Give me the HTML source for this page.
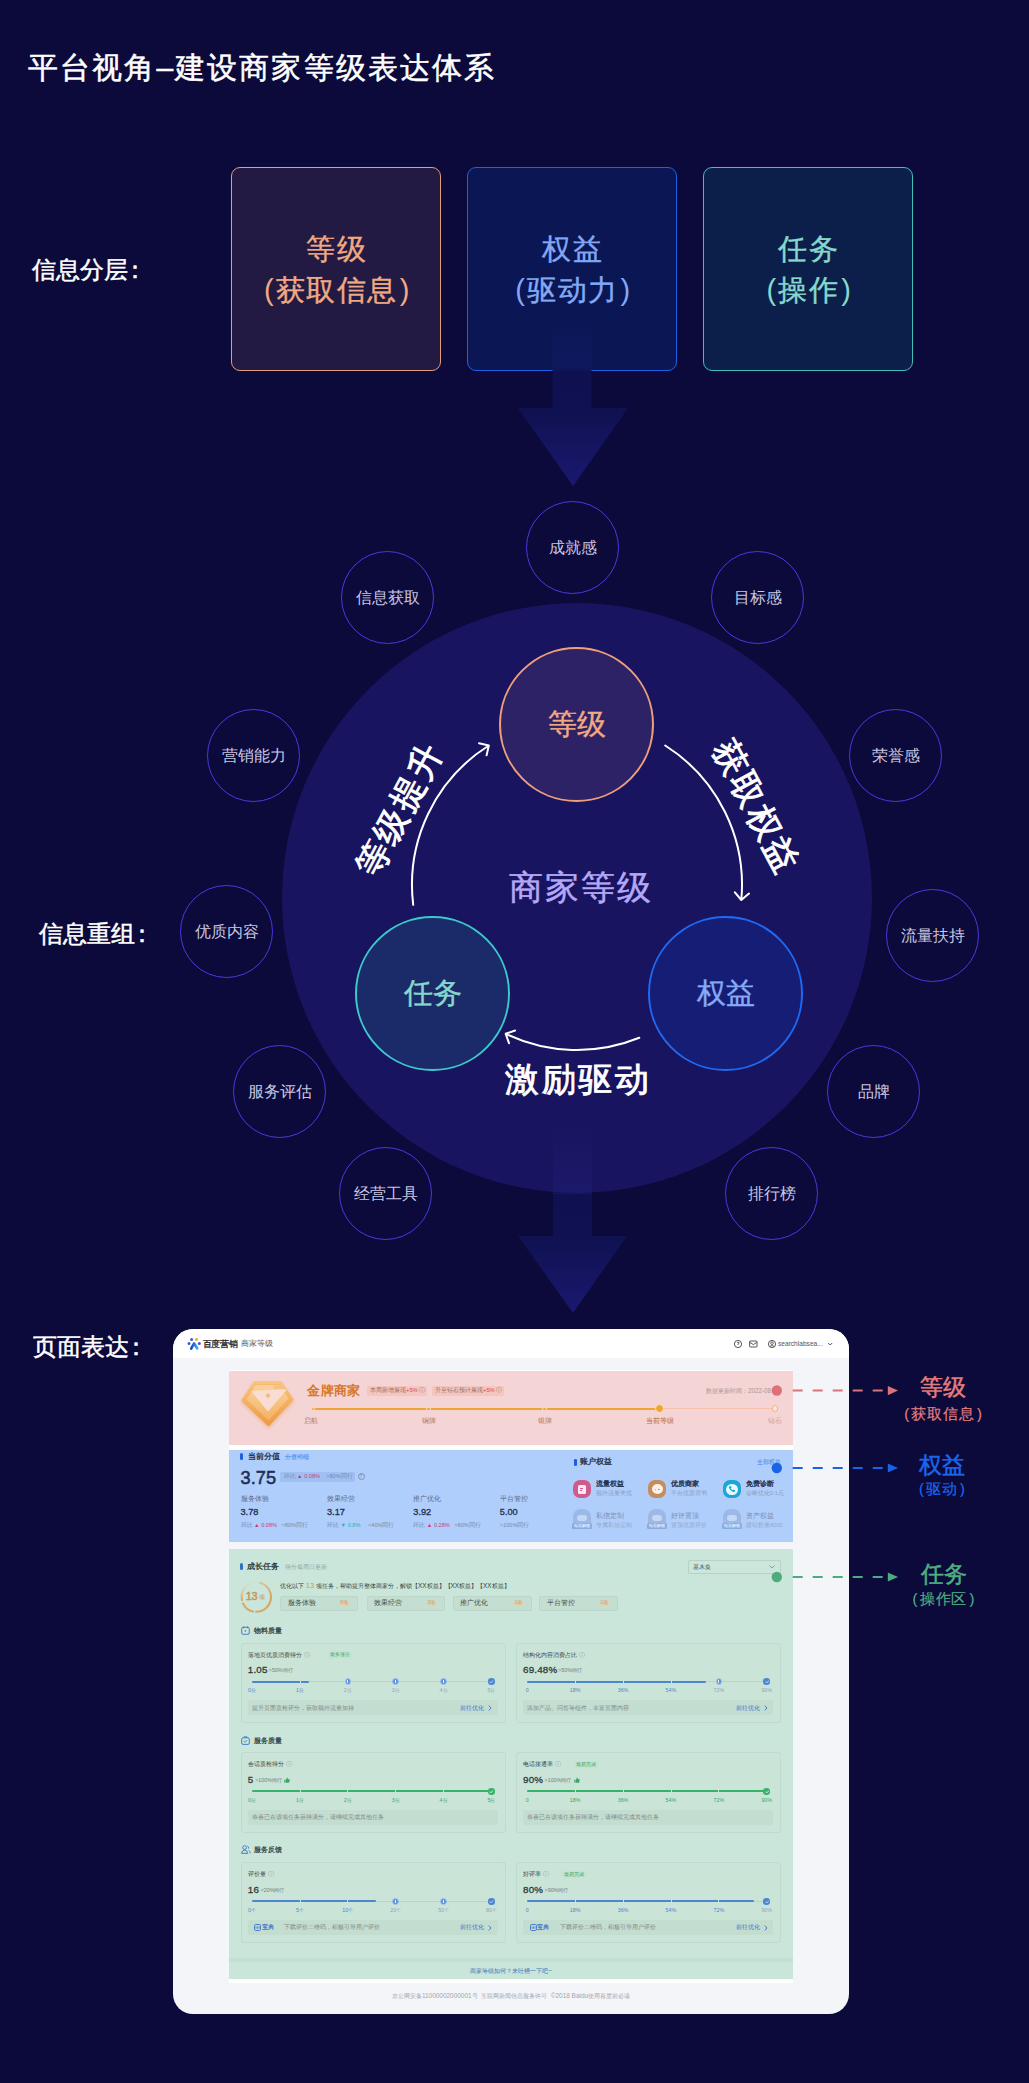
<!DOCTYPE html>
<html><head><meta charset="utf-8">
<style>
*{box-sizing:border-box;margin:0;padding:0}
html,body{width:1029px;height:2083px;overflow:hidden}
body{background:#0b0a3a;position:relative;font-family:"Liberation Sans",sans-serif;color:#fff}
.a{position:absolute;white-space:nowrap;line-height:1}
.med{-webkit-text-stroke:0.5px currentColor}
.box{position:absolute;top:167px;width:210px;height:204px;border-radius:9px;border:1px solid}
.box .t{position:absolute;left:0;width:100%;text-align:center;font-size:29px;line-height:1;letter-spacing:1.5px;text-indent:1.5px;-webkit-text-stroke:0.4px currentColor}
.p{margin:0 2px;letter-spacing:0;-webkit-text-stroke:0}
.p2{margin:0 2.2px;letter-spacing:0}
.oc{position:absolute;width:93px;height:93px;border-radius:50%;border:1.9px solid #463be0;display:flex;align-items:center;justify-content:center;font-size:16px;color:#c9c7e2;line-height:1}
.m{position:absolute;white-space:nowrap;line-height:1}
.ic{position:absolute;width:155px;height:155px;border-radius:50%;border:2px solid;display:flex;align-items:center;justify-content:center;font-size:29px;line-height:1;-webkit-text-stroke:0.4px currentColor}
</style></head><body>

<!-- Title -->
<div class="a med" style="left:28px;top:53px;font-size:30px;letter-spacing:2.1px">平台视角–建设商家等级表达体系</div>

<!-- Section labels -->
<div class="a med" style="left:32px;top:259px;font-size:23.5px">信息分层<span style="margin-left:-5.5px">：</span></div>
<div class="a med" style="left:39px;top:923px;font-size:23.5px">信息重组<span style="margin-left:-5.5px">：</span></div>
<div class="a med" style="left:33px;top:1336px;font-size:23.5px">页面表达<span style="margin-left:-5.5px">：</span></div>

<!-- Three boxes -->
<div class="box" style="left:231px;background:#221a42;border-color:#e39c7e;color:#f1a983">
  <div class="t" style="top:67px">等级</div>
  <div class="t" style="top:108px"><span class="p">(</span>获取信息<span class="p">)</span></div>
</div>
<div class="box" style="left:467px;background:#0b1654;border-color:#2160e6;color:#82a8f6">
  <div class="t" style="top:67px">权益</div>
  <div class="t" style="top:108px"><span class="p">(</span>驱动力<span class="p">)</span></div>
</div>
<div class="box" style="left:703px;background:#0c1f4a;border-color:#45bdb8;color:#86d8cd">
  <div class="t" style="top:67px">任务</div>
  <div class="t" style="top:108px"><span class="p">(</span>操作<span class="p">)</span></div>
</div>

<!-- Arrow 1 -->
<svg class="a" style="left:0;top:0" width="1029" height="2083" viewBox="0 0 1029 2083">
  <defs>
    <linearGradient id="sh1" x1="0" y1="0" x2="0" y2="1">
      <stop offset="0" stop-color="#142070" stop-opacity="0"/>
      <stop offset="0.5" stop-color="#122070" stop-opacity="0.35"/>
      <stop offset="0.58" stop-color="#0e1050" stop-opacity="1"/>
      <stop offset="1" stop-color="#0f1152" stop-opacity="1"/>
    </linearGradient>
    <linearGradient id="tr1" x1="0" y1="0" x2="0" y2="1">
      <stop offset="0" stop-color="#0f1150"/>
      <stop offset="1" stop-color="#1a1870"/>
    </linearGradient>
    <radialGradient id="bigc" cx="0.5" cy="0.5" r="0.5">
      <stop offset="0" stop-color="#191662"/>
      <stop offset="0.85" stop-color="#1a1764"/>
      <stop offset="1" stop-color="#1b1868"/>
    </radialGradient>
  </defs>
  <rect x="552.5" y="320" width="39" height="88" fill="url(#sh1)"/>
  <polygon points="518,408 628,408 573,486" fill="url(#tr1)"/>
</svg>

<!-- Big circle -->
<div class="a" style="left:282px;top:603px;width:590px;height:590px;border-radius:50%;background:#18145f"></div>

<!-- Arrow 2 (over circle bottom) -->
<svg class="a" style="left:0;top:0" width="1029" height="2083" viewBox="0 0 1029 2083">
  <defs>
    <linearGradient id="sh2" x1="0" y1="0" x2="0" y2="1">
      <stop offset="0" stop-color="#2a2c96" stop-opacity="0"/>
      <stop offset="0.625" stop-color="#2a2c96" stop-opacity="0.22"/>
      <stop offset="0.632" stop-color="#0e1050" stop-opacity="1"/>
      <stop offset="1" stop-color="#0f1152" stop-opacity="1"/>
    </linearGradient>
    <linearGradient id="tr2" x1="0" y1="0" x2="0" y2="1">
      <stop offset="0" stop-color="#0f1150"/>
      <stop offset="1" stop-color="#1a1870"/>
    </linearGradient>
  </defs>
  <rect x="553" y="1120" width="39" height="117" fill="url(#sh2)"/>
  <polygon points="518,1236 627,1236 573,1313" fill="url(#tr2)"/>
</svg>

<!-- Inner circles -->
<div class="ic" style="left:499px;top:647px;background:#2d2266;border-color:#ee9f7a;color:#f1a983">等级</div>
<div class="ic" style="left:355px;top:916px;background:#1b2a68;border-color:#3cc9cb;color:#86d8cd">任务</div>
<div class="ic" style="left:648px;top:916px;background:#161d74;border-color:#1f68f2;color:#86aaf7">权益</div>

<!-- Arcs -->
<svg class="a" style="left:0;top:0" width="1029" height="2083" viewBox="0 0 1029 2083" fill="none" stroke="#fff" stroke-width="2" stroke-linecap="round" stroke-linejoin="round">
  <path id="arcL" d="M413.2,904.8 A165,165 0 0 1 488.8,745.5 M479.1,743.3 L488.8,745.5 L486.6,755.3"/>
  <path id="arcR" d="M665.2,745.5 A165,165 0 0 1 741.3,900.0 M749.0,893.6 L741.3,900.0 L734.9,892.3"/>
  <path id="arcB" d="M639.3,1037.8 A165,165 0 0 1 505.7,1033.8 M509.0,1043.2 L505.7,1033.8 L515.1,1030.5"/>
</svg>

<div class="a" style="left:509px;top:870px;font-size:34px;letter-spacing:2px;color:#b4a7f6;-webkit-text-stroke:0.5px #b4a7f6">商家等级</div>
<div class="a" style="left:505px;top:1061.5px;font-size:34px;letter-spacing:2.6px;color:#fff;-webkit-text-stroke:0.9px #fff">激励驱动</div>
<div class="a" style="left:398.6px;top:810px;font-size:34px;letter-spacing:2.6px;text-indent:2.6px;color:#fff;-webkit-text-stroke:0.9px #fff;transform:translate(-50%,-50%) rotate(-62deg)">等级提升</div>
<div class="a" style="left:755.5px;top:806px;font-size:34px;letter-spacing:2.6px;text-indent:2.6px;color:#fff;-webkit-text-stroke:0.9px #fff;transform:translate(-50%,-50%) rotate(62deg)">获取权益</div>

<!-- Outer circles -->
<div class="oc" style="left:526px;top:501px">成就感</div>
<div class="oc" style="left:341px;top:551px">信息获取</div>
<div class="oc" style="left:711px;top:551px">目标感</div>
<div class="oc" style="left:207px;top:709px">营销能力</div>
<div class="oc" style="left:849px;top:709px">荣誉感</div>
<div class="oc" style="left:180px;top:885px">优质内容</div>
<div class="oc" style="left:886px;top:889px">流量扶持</div>
<div class="oc" style="left:233px;top:1045px">服务评估</div>
<div class="oc" style="left:827px;top:1045px">品牌</div>
<div class="oc" style="left:339px;top:1147px">经营工具</div>
<div class="oc" style="left:725px;top:1147px">排行榜</div>

<!-- MOCKUP -->
<div id="mock" class="a" style="left:173px;top:1329px;width:676px;height:685px;border-radius:20px;background:#f3f5f8;overflow:hidden">
<div style="position:absolute;left:-173px;top:-1329px;width:1029px;height:2083px">
<!-- MOCK-START -->
<div class="m" style="left:173px;top:1329px;width:676px;height:29px;background:#ffffff;"></div>
<svg class="m" style="left:186px;top:1336px" width="16" height="15" viewBox="0 0 16 15">
<circle cx="3" cy="7.6" r="1.5" fill="#3b5bd6"/><circle cx="5.6" cy="3.5" r="1.5" fill="#3b5bd6"/>
<circle cx="10.5" cy="3.5" r="1.5" fill="#f2a640"/><circle cx="13.3" cy="7.6" r="1.5" fill="#3b5bd6"/>
<path d="M5.2,12.6 L8.1,7.4 L11.2,12.3" stroke="url(#lg)" stroke-width="2.6" fill="none" stroke-linecap="round" stroke-linejoin="round"/>
<defs><linearGradient id="lg" x1="0" x2="1"><stop offset="0" stop-color="#1f3fbf"/><stop offset="1" stop-color="#33a7f0"/></linearGradient></defs>
</svg>
<div class="m" style="left:202.5px;top:1339.6px;font-size:8.8px;color:#2b2b2b;-webkit-text-stroke-width:0.32px;letter-spacing:-0.2px;">百度营销</div>
<div class="m" style="left:240.8px;top:1340.1px;font-size:7.8px;color:#555;">商家等级</div>
<svg class="m" style="left:733px;top:1339px" width="100" height="10" viewBox="0 0 100 10">
<circle cx="5" cy="5" r="3.6" fill="none" stroke="#444" stroke-width="0.9"/>
<path d="M4,4 Q5,2.6 6,3.6 Q6.4,4.6 5,5.2 L5,6" stroke="#444" stroke-width="0.8" fill="none"/>
<rect x="16.6" y="2" width="7.4" height="6" rx="0.8" fill="none" stroke="#444" stroke-width="0.9"/>
<path d="M16.8,3.3 L20.3,5.6 L23.8,3.3" stroke="#444" stroke-width="0.9" fill="none"/>
<circle cx="39" cy="5" r="3.6" fill="none" stroke="#444" stroke-width="0.9"/>
<circle cx="39" cy="4.2" r="1.3" fill="none" stroke="#444" stroke-width="0.8"/>
<path d="M36.8,7.5 Q39,5.4 41.2,7.5" stroke="#444" stroke-width="0.8" fill="none"/>
<path d="M95.2,4 L97.2,6 L99.2,4" stroke="#444" stroke-width="0.9" fill="none"/>
</svg>
<div class="m" style="left:778px;top:1340.7px;font-size:6.6px;color:#555;">searchlabsea...</div>
<div class="m" style="left:229px;top:1369.5px;width:564px;height:613.5px;background:#ffffff;"></div>
<div class="m" style="left:229px;top:1541.7px;width:564px;height:7.2999999999999545px;background:#f3f5f8;"></div>
<div class="m" style="left:229px;top:1371px;width:564px;height:73.59999999999991px;background:#f4d4d4;"></div>
<div class="m" style="left:229px;top:1449.8px;width:564px;height:91.90000000000009px;background:#b0cefb;"></div>
<div class="m" style="left:229px;top:1549px;width:564px;height:430.20000000000005px;background:#cae5d9;"></div>
<svg class="m" style="left:236px;top:1376px" width="62" height="56" viewBox="236 1376 62 56">
<defs>
<linearGradient id="bg1" x1="0" y1="0" x2="0" y2="1"><stop offset="0" stop-color="#f8c47e"/><stop offset="1" stop-color="#f09a44"/></linearGradient>
<linearGradient id="bg2" x1="0" y1="0" x2="0" y2="1"><stop offset="0" stop-color="#fbd29e"/><stop offset="1" stop-color="#f5b264"/></linearGradient>
<filter id="bsh" x="-20%" y="-20%" width="140%" height="150%"><feGaussianBlur stdDeviation="1.4"/></filter>
</defs>
<polygon points="254.5,1384.5 280.5,1384.5 292.5,1401.5 268.5,1427 243,1402.5" fill="#e9964a" stroke="#e9964a" stroke-width="3" stroke-linejoin="round" opacity="0.35" filter="url(#bsh)"/>
<polygon points="254.5,1382.5 280.5,1382.5 292,1399.5 268.5,1424.5 243,1400.5" fill="url(#bg1)" stroke="url(#bg1)" stroke-width="3" stroke-linejoin="round"/>
<polygon points="255.5,1384.5 279.5,1384.5 289,1398.5 268.5,1420 246,1399.5" fill="url(#bg2)" stroke="#f3ae60" stroke-width="0.6" stroke-linejoin="round"/>
<polygon points="252.5,1391.5 285.5,1390 268,1410.5" fill="#f9dcd2" stroke="#f9dcd2" stroke-width="1.5" stroke-linejoin="round"/>
<polygon points="268,1393 270.6,1395.6 268,1398.2 265.4,1395.6" fill="#f4bb78"/>
<polygon points="273,1385.5 283,1385.5 285,1389 274,1389" fill="#f6bd7e" opacity="0.8"/>
</svg>
<div class="m" style="left:307.3px;top:1384.0px;font-size:13.2px;color:#d9772b;font-weight:bold;letter-spacing:0.3px;">金牌商家</div>
<div class="m" style="left:367.3px;top:1386px;width:60.099999999999966px;height:10.200000000000045px;background:#f3c7bf;border-radius:1.5px;"></div>
<div class="m" style="left:370px;top:1388.2px;font-size:5.8px;color:#9a6d66;">本周新增展现<span style="color:#e3455a">+5%</span> ⓘ</div>
<div class="m" style="left:432px;top:1386px;width:72px;height:10.200000000000045px;background:#f3c7bf;border-radius:1.5px;"></div>
<div class="m" style="left:435px;top:1388.2px;font-size:5.8px;color:#9a6d66;">升至钻石预计展现<span style="color:#e3455a">+5%</span> ⓘ</div>
<div class="m" style="right:258px;top:1387.8px;font-size:6.3px;color:#a99696;">数据更新时间：2022-08</div>
<div class="m" style="left:313px;top:1407.8px;width:346.5px;height:2.0px;background:#f0a432;border-radius:1px;"></div>
<div class="m" style="left:659.5px;top:1408.2px;width:115.5px;height:1.2000000000000455px;background:#f6c2ad;"></div>
<div class="m" style="left:310.8px;top:1406.6px;width:4.4px;height:4.4px;border-radius:50%;background:#f0a432;border:1px solid #f8d8c4"></div>
<div class="m" style="left:426.3px;top:1406.6px;width:4.4px;height:4.4px;border-radius:50%;background:#f0a432;border:1px solid #f8d8c4"></div>
<div class="m" style="left:542.3px;top:1406.6px;width:4.4px;height:4.4px;border-radius:50%;background:#f0a432;border:1px solid #f8d8c4"></div>
<div class="m" style="left:655px;top:1404.3px;width:9px;height:9px;border-radius:50%;background:#f0a432;border:1.3px solid #fbe0c8"></div>
<div class="m" style="left:771.6px;top:1405.4px;width:6.8px;height:6.8px;border-radius:50%;background:#fbe7de;border:1.2px solid #f0b482"></div>
<div class="m" style="left:311px;top:1417.7px;font-size:6.6px;color:#b9785c;transform:translateX(-50%);">启航</div>
<div class="m" style="left:428.5px;top:1417.7px;font-size:6.6px;color:#b9785c;transform:translateX(-50%);">铜牌</div>
<div class="m" style="left:544.5px;top:1417.7px;font-size:6.6px;color:#b9785c;transform:translateX(-50%);">银牌</div>
<div class="m" style="left:659.5px;top:1417.7px;font-size:6.6px;color:#b86a40;transform:translateX(-50%);">当前等级</div>
<div class="m" style="left:775px;top:1417.7px;font-size:6.6px;color:#cfa190;transform:translateX(-50%);">钻石</div>
<div class="m" style="left:240.4px;top:1453px;width:2.9000000000000057px;height:7.2000000000000455px;background:#1b5fe0;border-radius:1.5px;"></div>
<div class="m" style="left:247.7px;top:1452.7px;font-size:8.2px;color:#23314f;-webkit-text-stroke-width:0.32px;">当前分值</div>
<div class="m" style="left:284.8px;top:1453.8px;font-size:6.3px;color:#3a7ae6;">分值明细</div>
<div class="m" style="left:240.6px;top:1468.5px;font-size:18.2px;color:#1e2f57;letter-spacing:0px;-webkit-text-stroke:0.55px #1e2f57;">3.75</div>
<div class="m" style="left:280px;top:1471.6px;width:75.19999999999999px;height:10.100000000000136px;background:#a0c0f4;border-radius:1px;"></div>
<div class="m" style="left:283.5px;top:1473.9px;font-size:5.6px;color:#7588a8;">环比 <span style="color:#cc4070">▲ 0.08%</span>&nbsp;&nbsp;&nbsp;&nbsp;&gt;80%同行</div>
<div class="m" style="left:357.5px;top:1473.4px;width:7px;height:7px;border-radius:50%;border:0.8px solid #7f8fae;font-size:5px;line-height:5.6px;text-align:center;color:#7f8fae">?</div>
<div class="m" style="left:240.5px;top:1496.1px;font-size:6.6px;color:#5a6a86;">服务体验</div>
<div class="m" style="left:240.5px;top:1508.2px;font-size:9.2px;color:#24324f;-webkit-text-stroke-width:0.32px;">3.78</div>
<div class="m" style="left:240.5px;top:1523.2px;font-size:5.6px;color:#7588a8;">环比 <span style="color:#cc4070">▲ 0.08%</span></div>
<div class="m" style="left:281.5px;top:1523.2px;font-size:5.6px;color:#7588a8;">&gt;80%同行</div>
<div class="m" style="left:327px;top:1496.1px;font-size:6.6px;color:#5a6a86;">效果经营</div>
<div class="m" style="left:327px;top:1508.2px;font-size:9.2px;color:#24324f;-webkit-text-stroke-width:0.32px;">3.17</div>
<div class="m" style="left:327px;top:1523.2px;font-size:5.6px;color:#7588a8;">环比 <span style="color:#2bb0b0">▼ 0.8%</span></div>
<div class="m" style="left:368px;top:1523.2px;font-size:5.6px;color:#7588a8;">&lt;40%同行</div>
<div class="m" style="left:413.3px;top:1496.1px;font-size:6.6px;color:#5a6a86;">推广优化</div>
<div class="m" style="left:413.3px;top:1508.2px;font-size:9.2px;color:#24324f;-webkit-text-stroke-width:0.32px;">3.92</div>
<div class="m" style="left:413.3px;top:1523.2px;font-size:5.6px;color:#7588a8;">环比 <span style="color:#cc4070">▲ 0.28%</span></div>
<div class="m" style="left:454.3px;top:1523.2px;font-size:5.6px;color:#7588a8;">&gt;80%同行</div>
<div class="m" style="left:499.8px;top:1496.1px;font-size:6.6px;color:#5a6a86;">平台管控</div>
<div class="m" style="left:499.8px;top:1508.2px;font-size:9.2px;color:#24324f;-webkit-text-stroke-width:0.32px;">5.00</div>
<div class="m" style="left:499.8px;top:1523.2px;font-size:5.6px;color:#7588a8;">&gt;100%同行</div>
<div class="m" style="left:574px;top:1459px;width:2.6000000000000227px;height:7px;background:#1b5fe0;border-radius:1.3px;"></div>
<div class="m" style="left:579.7px;top:1458.4px;font-size:8.2px;color:#23314f;-webkit-text-stroke-width:0.32px;">账户权益</div>
<div class="m" style="right:247.79999999999995px;top:1459.3px;font-size:6.0px;color:#3a7ae6;">全部权益</div>
<div class="m" style="left:572.5px;top:1480.1px;width:18.4px;height:18.4px;border-radius:7px;background:#d05a8c"></div>
<div class="m" style="left:577.7px;top:1484.8px;width:8px;height:9px;border-radius:1.5px;background:#fbe9f1"></div>
<div class="m" style="left:579.5px;top:1487.7px;width:3.6px;height:0.9px;background:#d05a8c"></div>
<div class="m" style="left:579.5px;top:1489.8999999999999px;width:2.6px;height:0.9px;background:#d05a8c"></div>
<div class="m" style="left:595.8000000000001px;top:1481.1px;font-size:6.9px;color:#23314f;-webkit-text-stroke-width:0.32px;">流量权益</div>
<div class="m" style="left:595.8000000000001px;top:1491.4px;font-size:5.6px;color:#8a9dbd;">额外流量奖优</div>
<div class="m" style="left:572.5px;top:1509.3px;width:18.4px;height:18.4px;border-radius:8px 8px 4px 4px;background:#9bb8e6"></div>
<div class="m" style="left:576.5px;top:1515.0px;width:10.4px;height:6px;border-radius:3px;background:#c4d8f6"></div>
<div class="m" style="left:571.5px;top:1523.1px;width:20.4px;height:5.6px;border-radius:1.5px;background:#8aabde;font-size:4.2px;line-height:5.6px;color:#dbe8fc;text-align:center;font-weight:bold">钻石解锁</div>
<div class="m" style="left:595.8000000000001px;top:1512.8px;font-size:6.9px;color:#7b8fb4;">私信定制</div>
<div class="m" style="left:595.8000000000001px;top:1523.0px;font-size:5.6px;color:#93a8cc;">专属私信定制</div>
<div class="m" style="left:648.0px;top:1480.1px;width:18.4px;height:18.4px;border-radius:7px;background:#c58c5f"></div>
<div class="m" style="left:651.7px;top:1484.3px;width:11px;height:10px;border-radius:50%;background:#fdf1e6"></div>
<div class="m" style="left:654.6px;top:1488.6px;width:1.4px;height:1.4px;border-radius:50%;background:#c58c5f"></div>
<div class="m" style="left:658.4000000000001px;top:1488.6px;width:1.4px;height:1.4px;border-radius:50%;background:#c58c5f"></div>
<div class="m" style="left:671.3000000000001px;top:1481.1px;font-size:6.9px;color:#23314f;-webkit-text-stroke-width:0.32px;">优质商家</div>
<div class="m" style="left:671.3000000000001px;top:1491.4px;font-size:5.6px;color:#8a9dbd;">平台优质背书</div>
<div class="m" style="left:648.0px;top:1509.3px;width:18.4px;height:18.4px;border-radius:8px 8px 4px 4px;background:#9bb8e6"></div>
<div class="m" style="left:652.0px;top:1515.0px;width:10.4px;height:6px;border-radius:3px;background:#c4d8f6"></div>
<div class="m" style="left:647.0px;top:1523.1px;width:20.4px;height:5.6px;border-radius:1.5px;background:#8aabde;font-size:4.2px;line-height:5.6px;color:#dbe8fc;text-align:center;font-weight:bold">钻石解锁</div>
<div class="m" style="left:671.3000000000001px;top:1512.8px;font-size:6.9px;color:#7b8fb4;">好评置顶</div>
<div class="m" style="left:671.3000000000001px;top:1523.0px;font-size:5.6px;color:#93a8cc;">置顶优质评价</div>
<div class="m" style="left:722.6999999999999px;top:1480.1px;width:18.4px;height:18.4px;border-radius:7px;background:#1aa6d6"></div>
<div class="m" style="left:726.1px;top:1483.5px;width:11.6px;height:11.6px;border-radius:50%;background:#eaf8fd"></div>
<svg class="m" style="left:727.9px;top:1485.3px" width="8" height="8" viewBox="0 0 8 8"><path d="M1.6,1.2 L2.9,1 L3.6,2.7 L2.8,3.3 Q3.4,4.7 4.7,5.3 L5.3,4.5 L7,5.2 L6.8,6.5 Q6.2,7.2 5,6.9 Q2.2,6 1.1,3 Q0.9,1.8 1.6,1.2 Z" fill="#1aa6d6"/></svg>
<div class="m" style="left:746.0px;top:1481.1px;font-size:6.9px;color:#23314f;-webkit-text-stroke-width:0.32px;">免费诊断</div>
<div class="m" style="left:746.0px;top:1491.4px;font-size:5.6px;color:#8a9dbd;">诊断优化0.1元</div>
<div class="m" style="left:722.6999999999999px;top:1509.3px;width:18.4px;height:18.4px;border-radius:8px 8px 4px 4px;background:#9bb8e6"></div>
<div class="m" style="left:726.6999999999999px;top:1515.0px;width:10.4px;height:6px;border-radius:3px;background:#c4d8f6"></div>
<div class="m" style="left:721.6999999999999px;top:1523.1px;width:20.4px;height:5.6px;border-radius:1.5px;background:#8aabde;font-size:4.2px;line-height:5.6px;color:#dbe8fc;text-align:center;font-weight:bold">钻石解锁</div>
<div class="m" style="left:746.0px;top:1512.8px;font-size:6.9px;color:#7b8fb4;">资产权益</div>
<div class="m" style="left:746.0px;top:1523.0px;font-size:5.6px;color:#93a8cc;">建站数量8000</div>
<div class="m" style="left:240.4px;top:1563px;width:2.9000000000000057px;height:7.2000000000000455px;background:#2f70c2;border-radius:1.5px;"></div>
<div class="m" style="left:247.2px;top:1562.7px;font-size:8.2px;color:#2c3d3f;-webkit-text-stroke-width:0.32px;">成长任务</div>
<div class="m" style="left:285px;top:1564.0px;font-size:6.0px;color:#93aaa2;">得分每周日更新</div>
<div class="m" style="left:687.6px;top:1559.7px;width:93.60000000000002px;height:14.299999999999955px;background:#cde6db;border:0.8px solid #b6d3c6;border-radius:2px;"></div>
<div class="m" style="left:693.3px;top:1563.7px;font-size:6.2px;color:#44524f;">基木鱼</div>
<svg class="m" style="left:769px;top:1564.5px" width="6" height="4" viewBox="0 0 6 4"><path d="M0.5,0.6 L3,3 L5.5,0.6" stroke="#7a8a86" stroke-width="0.8" fill="none"/></svg>
<svg class="m" style="left:239px;top:1579.5px" width="34" height="34" viewBox="0 0 34 34">
<defs>
<linearGradient id="rg" x1="0" y1="0" x2="0" y2="1"><stop offset="0" stop-color="#e4c290"/><stop offset="0.5" stop-color="#d6a565"/><stop offset="1" stop-color="#d9a868"/></linearGradient>
<linearGradient id="rg2" x1="0" y1="1" x2="0" y2="0"><stop offset="0" stop-color="#d7a767"/><stop offset="1" stop-color="#e8d6b4" stop-opacity="0.3"/></linearGradient>
</defs>
<path d="M21,2.7 A14.8,14.8 0 0 1 17,31.8" fill="none" stroke="url(#rg)" stroke-width="2.1" stroke-linecap="round"/>
<path d="M14,31.5 A14.8,14.8 0 0 1 4,23.5" fill="none" stroke="#d8a96a" stroke-width="2.1" stroke-linecap="round"/>
<path d="M3,20 A14.8,14.8 0 0 1 15.5,2.3" fill="none" stroke="url(#rg2)" stroke-width="2.1" stroke-linecap="round"/>
</svg>
<div class="m" style="left:245.8px;top:1591.0px;font-size:10.8px;color:#c8955a;-webkit-text-stroke:0.5px #c8955a;letter-spacing:-0.3px;">13</div>
<div class="m" style="left:259.3px;top:1594.5px;font-size:5.6px;color:#c8955a;">项</div>
<div class="m" style="left:280px;top:1581.8px;font-size:6.4px;color:#35423f;">优化以下 <span style="color:#d9963e;font-size:7.6px">13</span> 项任务，帮助提升整体商家分，解锁【XX权益】【XX权益】【XX权益】</div>
<div class="m" style="left:280px;top:1595.5px;width:77.5px;height:15.700000000000045px;background:#c4ded2;border:0.7px solid #bcd7ca;border-radius:2px;"></div>
<div class="m" style="left:287.5px;top:1600.1px;font-size:6.6px;color:#3e4c49;">服务体验</div>
<div class="m" style="left:339.5px;top:1600.6px;width:9.0px;height:5.800000000000182px;background:#e3d2b0;border-radius:1px;"></div>
<div class="m" style="left:344.0px;top:1601.2px;font-size:4.6px;color:#d29a5e;transform:translateX(-50%);">8项</div>
<div class="m" style="left:366.5px;top:1595.5px;width:78.30000000000001px;height:15.700000000000045px;background:#c4ded2;border:0.7px solid #bcd7ca;border-radius:2px;"></div>
<div class="m" style="left:374.0px;top:1600.1px;font-size:6.6px;color:#3e4c49;">效果经营</div>
<div class="m" style="left:426.8px;top:1600.6px;width:9.0px;height:5.800000000000182px;background:#e3d2b0;border-radius:1px;"></div>
<div class="m" style="left:431.3px;top:1601.2px;font-size:4.6px;color:#d29a5e;transform:translateX(-50%);">3项</div>
<div class="m" style="left:452.7px;top:1595.5px;width:79.09999999999997px;height:15.700000000000045px;background:#c4ded2;border:0.7px solid #bcd7ca;border-radius:2px;"></div>
<div class="m" style="left:460.2px;top:1600.1px;font-size:6.6px;color:#3e4c49;">推广优化</div>
<div class="m" style="left:513.8px;top:1600.6px;width:9.0px;height:5.800000000000182px;background:#e3d2b0;border-radius:1px;"></div>
<div class="m" style="left:518.3px;top:1601.2px;font-size:4.6px;color:#d29a5e;transform:translateX(-50%);">1项</div>
<div class="m" style="left:539.4px;top:1595.5px;width:78.30000000000007px;height:15.700000000000045px;background:#c4ded2;border:0.7px solid #bcd7ca;border-radius:2px;"></div>
<div class="m" style="left:546.9px;top:1600.1px;font-size:6.6px;color:#3e4c49;">平台管控</div>
<div class="m" style="left:599.7px;top:1600.6px;width:9.0px;height:5.800000000000182px;background:#e3d2b0;border-radius:1px;"></div>
<div class="m" style="left:604.2px;top:1601.2px;font-size:4.6px;color:#d29a5e;transform:translateX(-50%);">1项</div>
<svg class="m" style="left:240.5px;top:1625.7px" width="9" height="9" viewBox="0 0 9 9"><rect x="0.7" y="1.3" width="7.6" height="7" rx="1.3" fill="none" stroke="#3b74c8" stroke-width="0.9"/><path d="M2.6,0.4 V2.2 M6.4,0.4 V2.2" stroke="#3b74c8" stroke-width="0.9"/><path d="M3.8,3.8 L5.4,4.9 L3.8,6 Z" fill="#3b74c8"/></svg>
<div class="m" style="left:254px;top:1626.5px;font-size:7.4px;color:#34413f;-webkit-text-stroke-width:0.25px;">物料质量</div>
<div class="m" style="left:240.5px;top:1642.7px;width:265.3px;height:80.29999999999995px;background:#cae4d8;border:0.8px solid #bfdace;border-radius:3px;"></div>
<div class="m" style="left:248.0px;top:1651.6px;font-size:6.3px;color:#3b4845;">落地页优质消费得分 <span style="color:#8e9c98;font-size:6px">ⓘ</span></div>
<div class="m" style="left:326.5px;top:1650.9px;width:26.0px;height:7.7999999999999545px;background:#c6e3d2;border-radius:1px;"></div>
<div class="m" style="left:329.5px;top:1652.1px;font-size:5.4px;color:#38a866;">最多涨分</div>
<div class="m" style="left:247.8px;top:1665.2px;font-size:9.8px;color:#2f3b39;-webkit-text-stroke-width:0.3px;letter-spacing:0.2px;">1.05</div>
<div class="m" style="left:268.87px;top:1668.0px;font-size:5.3px;color:#6f7d7a;">&gt;50%同行</div>
<div class="m" style="left:252.0px;top:1681.2px;width:239.5px;height:1.0px;background:#b9d2cc;"></div>
<div class="m" style="left:252.0px;top:1680.7px;width:56.69999999999999px;height:2.0px;background:#4d86d0;border-radius:1px;"></div>
<div class="m" style="left:299.5px;top:1680.7px;width:0.7999999999999545px;height:2.0px;background:#cfe6dc;"></div>
<div class="m" style="left:252.0px;top:1688.0px;font-size:5.3px;color:#4f86cc;transform:translateX(-50%);">0分</div>
<div class="m" style="left:299.9px;top:1688.0px;font-size:5.3px;color:#4f86cc;transform:translateX(-50%);">1分</div>
<div class="m" style="left:344.5px;top:1678.4px;width:6.6px;height:6.6px;border-radius:50%;background:#5d91d6;border:1px solid #a9c6ea"></div>
<div class="m" style="left:347.40000000000003px;top:1679.9px;width:0.8px;height:3.4px;background:#e8f2ff"></div>
<div class="m" style="left:347.8px;top:1688.0px;font-size:5.3px;color:#8fa6b8;transform:translateX(-50%);">2分</div>
<div class="m" style="left:392.4px;top:1678.4px;width:6.6px;height:6.6px;border-radius:50%;background:#5d91d6;border:1px solid #a9c6ea"></div>
<div class="m" style="left:395.3px;top:1679.9px;width:0.8px;height:3.4px;background:#e8f2ff"></div>
<div class="m" style="left:395.7px;top:1688.0px;font-size:5.3px;color:#8fa6b8;transform:translateX(-50%);">3分</div>
<div class="m" style="left:440.3px;top:1678.4px;width:6.6px;height:6.6px;border-radius:50%;background:#5d91d6;border:1px solid #a9c6ea"></div>
<div class="m" style="left:443.20000000000005px;top:1679.9px;width:0.8px;height:3.4px;background:#e8f2ff"></div>
<div class="m" style="left:443.6px;top:1688.0px;font-size:5.3px;color:#8fa6b8;transform:translateX(-50%);">4分</div>
<div class="m" style="left:488.2px;top:1678.4px;width:6.6px;height:6.6px;border-radius:50%;background:#4d86d0"></div>
<svg class="m" style="left:489.3px;top:1679.9px" width="4.4" height="3.6" viewBox="0 0 4.4 3.6"><path d="M0.5,1.8 L1.7,3 L3.9,0.6" stroke="#e8f2ff" stroke-width="0.8" fill="none"/></svg>
<div class="m" style="left:491.5px;top:1688.0px;font-size:5.3px;color:#8fa6b8;transform:translateX(-50%);">5分</div>
<div class="m" style="left:247.8px;top:1700.0px;width:250.2px;height:15.0px;background:#c3ddd1;border-radius:2px;"></div>
<div class="m" style="left:251.8px;top:1704.6px;font-size:6.1px;color:#7d8a87;">提升页面质检评分，获取额外流量加持</div>
<div class="m" style="right:544.7px;top:1704.6px;font-size:6.1px;color:#3b74c8;">前往优化</div>
<svg class="m" style="left:488.3px;top:1704.9px" width="4" height="6" viewBox="0 0 4 6"><path d="M0.8,0.6 L3,3 L0.8,5.4" stroke="#3b74c8" stroke-width="0.9" fill="none"/></svg>
<div class="m" style="left:515.7px;top:1642.7px;width:265.29999999999995px;height:80.29999999999995px;background:#cae4d8;border:0.8px solid #bfdace;border-radius:3px;"></div>
<div class="m" style="left:523.2px;top:1651.6px;font-size:6.3px;color:#3b4845;">结构化内容消费占比 <span style="color:#8e9c98;font-size:6px">ⓘ</span></div>
<div class="m" style="left:523.0px;top:1665.2px;font-size:9.8px;color:#2f3b39;-webkit-text-stroke-width:0.3px;letter-spacing:0.2px;">69.48%</div>
<div class="m" style="left:558.22px;top:1668.0px;font-size:5.3px;color:#6f7d7a;">&gt;50%同行</div>
<div class="m" style="left:527.2px;top:1681.2px;width:239.5px;height:1.0px;background:#b9d2cc;"></div>
<div class="m" style="left:527.2px;top:1680.7px;width:179.19999999999993px;height:2.0px;background:#4d86d0;border-radius:1px;"></div>
<div class="m" style="left:574.7px;top:1680.7px;width:0.7999999999999545px;height:2.0px;background:#cfe6dc;"></div>
<div class="m" style="left:622.6px;top:1680.7px;width:0.7999999999999545px;height:2.0px;background:#cfe6dc;"></div>
<div class="m" style="left:670.5000000000001px;top:1680.7px;width:0.7999999999999545px;height:2.0px;background:#cfe6dc;"></div>
<div class="m" style="left:527.2px;top:1688.0px;font-size:5.3px;color:#4f86cc;transform:translateX(-50%);">0</div>
<div class="m" style="left:575.1px;top:1688.0px;font-size:5.3px;color:#4f86cc;transform:translateX(-50%);">18%</div>
<div class="m" style="left:623.0px;top:1688.0px;font-size:5.3px;color:#4f86cc;transform:translateX(-50%);">36%</div>
<div class="m" style="left:670.9000000000001px;top:1688.0px;font-size:5.3px;color:#4f86cc;transform:translateX(-50%);">54%</div>
<div class="m" style="left:715.5000000000001px;top:1678.4px;width:6.6px;height:6.6px;border-radius:50%;background:#5d91d6;border:1px solid #a9c6ea"></div>
<div class="m" style="left:718.4000000000001px;top:1679.9px;width:0.8px;height:3.4px;background:#e8f2ff"></div>
<div class="m" style="left:718.8000000000001px;top:1688.0px;font-size:5.3px;color:#8fa6b8;transform:translateX(-50%);">72%</div>
<div class="m" style="left:763.4000000000001px;top:1678.4px;width:6.6px;height:6.6px;border-radius:50%;background:#4d86d0"></div>
<svg class="m" style="left:764.5px;top:1679.9px" width="4.4" height="3.6" viewBox="0 0 4.4 3.6"><path d="M0.5,1.8 L1.7,3 L3.9,0.6" stroke="#e8f2ff" stroke-width="0.8" fill="none"/></svg>
<div class="m" style="left:766.7px;top:1688.0px;font-size:5.3px;color:#8fa6b8;transform:translateX(-50%);">90%</div>
<div class="m" style="left:523.0px;top:1700.0px;width:250.20000000000005px;height:15.0px;background:#c3ddd1;border-radius:2px;"></div>
<div class="m" style="left:527.0px;top:1704.6px;font-size:6.1px;color:#7d8a87;">添加产品、问答等组件，丰富页面内容</div>
<div class="m" style="right:269.5px;top:1704.6px;font-size:6.1px;color:#3b74c8;">前往优化</div>
<svg class="m" style="left:763.5px;top:1704.9px" width="4" height="6" viewBox="0 0 4 6"><path d="M0.8,0.6 L3,3 L0.8,5.4" stroke="#3b74c8" stroke-width="0.9" fill="none"/></svg>
<svg class="m" style="left:240.5px;top:1735.8px" width="9" height="9" viewBox="0 0 9 9"><rect x="0.7" y="1.8" width="7.6" height="6.6" rx="1.3" fill="none" stroke="#3b74c8" stroke-width="0.9"/><path d="M3,1.8 V0.8 H6 V1.8" stroke="#3b74c8" stroke-width="0.8" fill="none"/><path d="M2.8,5 L4.1,6.2 L6.3,3.9" stroke="#3b74c8" stroke-width="0.8" fill="none"/></svg>
<div class="m" style="left:254px;top:1736.6px;font-size:7.4px;color:#34413f;-webkit-text-stroke-width:0.25px;">服务质量</div>
<div class="m" style="left:240.5px;top:1752.4px;width:265.3px;height:80.29999999999995px;background:#cae4d8;border:0.8px solid #bfdace;border-radius:3px;"></div>
<div class="m" style="left:248.0px;top:1761.3px;font-size:6.3px;color:#3b4845;">会话质检得分 <span style="color:#8e9c98;font-size:6px">ⓘ</span></div>
<div class="m" style="left:247.8px;top:1774.9px;font-size:9.8px;color:#2f3b39;-webkit-text-stroke-width:0.3px;letter-spacing:0.2px;">5</div>
<div class="m" style="left:255.25px;top:1777.7px;font-size:5.3px;color:#6f7d7a;">&gt;100%同行</div>
<svg class="m" style="left:284.1px;top:1777.0px" width="6" height="6" viewBox="0 0 6 6"><rect x="0.3" y="2.6" width="1.3" height="3.1" fill="#3aa865"/><path d="M2,2.6 L3.2,0.4 Q4,0.4 3.8,1.6 L3.6,2.3 L5.4,2.3 Q5.9,2.5 5.7,3.1 L5.1,5.4 Q4.9,5.8 4.4,5.8 L2,5.8 Z" fill="#3aa865"/></svg>
<div class="m" style="left:252.0px;top:1790.9px;width:239.5px;height:1.0px;background:#b9d2cc;"></div>
<div class="m" style="left:252.0px;top:1790.4px;width:240.8px;height:2.0px;background:#36b36a;border-radius:1px;"></div>
<div class="m" style="left:299.5px;top:1790.4px;width:0.7999999999999545px;height:2.0px;background:#cfe6dc;"></div>
<div class="m" style="left:347.40000000000003px;top:1790.4px;width:0.7999999999999545px;height:2.0px;background:#cfe6dc;"></div>
<div class="m" style="left:395.3px;top:1790.4px;width:0.7999999999999545px;height:2.0px;background:#cfe6dc;"></div>
<div class="m" style="left:443.20000000000005px;top:1790.4px;width:0.7999999999999545px;height:2.0px;background:#cfe6dc;"></div>
<div class="m" style="left:252.0px;top:1797.8px;font-size:5.3px;color:#3aa865;transform:translateX(-50%);">0分</div>
<div class="m" style="left:299.9px;top:1797.8px;font-size:5.3px;color:#3aa865;transform:translateX(-50%);">1分</div>
<div class="m" style="left:347.8px;top:1797.8px;font-size:5.3px;color:#3aa865;transform:translateX(-50%);">2分</div>
<div class="m" style="left:395.7px;top:1797.8px;font-size:5.3px;color:#3aa865;transform:translateX(-50%);">3分</div>
<div class="m" style="left:443.6px;top:1797.8px;font-size:5.3px;color:#3aa865;transform:translateX(-50%);">4分</div>
<div class="m" style="left:488.2px;top:1788.1000000000001px;width:6.6px;height:6.6px;border-radius:50%;background:#36b36a"></div>
<svg class="m" style="left:489.3px;top:1789.6000000000001px" width="4.4" height="3.6" viewBox="0 0 4.4 3.6"><path d="M0.5,1.8 L1.7,3 L3.9,0.6" stroke="#ffffff" stroke-width="0.8" fill="none"/></svg>
<div class="m" style="left:491.5px;top:1797.8px;font-size:5.3px;color:#3aa865;transform:translateX(-50%);">5分</div>
<div class="m" style="left:247.8px;top:1809.7px;width:250.2px;height:15.0px;background:#c3ddd1;border-radius:2px;"></div>
<div class="m" style="left:251.8px;top:1814.3px;font-size:6.1px;color:#7d8a87;">恭喜已在该项任务获得满分，请继续完成其他任务</div>
<div class="m" style="left:515.7px;top:1752.4px;width:265.29999999999995px;height:80.29999999999995px;background:#cae4d8;border:0.8px solid #bfdace;border-radius:3px;"></div>
<div class="m" style="left:523.2px;top:1761.3px;font-size:6.3px;color:#3b4845;">电话接通率 <span style="color:#8e9c98;font-size:6px">ⓘ</span></div>
<div class="m" style="left:572.7px;top:1760.6000000000001px;width:26.0px;height:7.7999999999999545px;background:#c6e3d2;border-radius:1px;"></div>
<div class="m" style="left:575.7px;top:1761.8px;font-size:5.4px;color:#38a866;">最易完成</div>
<div class="m" style="left:523.0px;top:1774.9px;font-size:9.8px;color:#2f3b39;-webkit-text-stroke-width:0.3px;letter-spacing:0.2px;">90%</div>
<div class="m" style="left:544.6px;top:1777.7px;font-size:5.3px;color:#6f7d7a;">&gt;100%同行</div>
<svg class="m" style="left:573.5px;top:1777.0px" width="6" height="6" viewBox="0 0 6 6"><rect x="0.3" y="2.6" width="1.3" height="3.1" fill="#3aa865"/><path d="M2,2.6 L3.2,0.4 Q4,0.4 3.8,1.6 L3.6,2.3 L5.4,2.3 Q5.9,2.5 5.7,3.1 L5.1,5.4 Q4.9,5.8 4.4,5.8 L2,5.8 Z" fill="#3aa865"/></svg>
<div class="m" style="left:527.2px;top:1790.9px;width:239.5px;height:1.0px;background:#b9d2cc;"></div>
<div class="m" style="left:527.2px;top:1790.4px;width:240.5px;height:2.0px;background:#36b36a;border-radius:1px;"></div>
<div class="m" style="left:574.7px;top:1790.4px;width:0.7999999999999545px;height:2.0px;background:#cfe6dc;"></div>
<div class="m" style="left:622.6px;top:1790.4px;width:0.7999999999999545px;height:2.0px;background:#cfe6dc;"></div>
<div class="m" style="left:670.5000000000001px;top:1790.4px;width:0.7999999999999545px;height:2.0px;background:#cfe6dc;"></div>
<div class="m" style="left:718.4000000000001px;top:1790.4px;width:0.7999999999999545px;height:2.0px;background:#cfe6dc;"></div>
<div class="m" style="left:527.2px;top:1797.8px;font-size:5.3px;color:#3aa865;transform:translateX(-50%);">0</div>
<div class="m" style="left:575.1px;top:1797.8px;font-size:5.3px;color:#3aa865;transform:translateX(-50%);">18%</div>
<div class="m" style="left:623.0px;top:1797.8px;font-size:5.3px;color:#3aa865;transform:translateX(-50%);">36%</div>
<div class="m" style="left:670.9000000000001px;top:1797.8px;font-size:5.3px;color:#3aa865;transform:translateX(-50%);">54%</div>
<div class="m" style="left:718.8000000000001px;top:1797.8px;font-size:5.3px;color:#3aa865;transform:translateX(-50%);">72%</div>
<div class="m" style="left:763.4000000000001px;top:1788.1000000000001px;width:6.6px;height:6.6px;border-radius:50%;background:#36b36a"></div>
<svg class="m" style="left:764.5px;top:1789.6000000000001px" width="4.4" height="3.6" viewBox="0 0 4.4 3.6"><path d="M0.5,1.8 L1.7,3 L3.9,0.6" stroke="#ffffff" stroke-width="0.8" fill="none"/></svg>
<div class="m" style="left:766.7px;top:1797.8px;font-size:5.3px;color:#3aa865;transform:translateX(-50%);">90%</div>
<div class="m" style="left:523.0px;top:1809.7px;width:250.20000000000005px;height:15.0px;background:#c3ddd1;border-radius:2px;"></div>
<div class="m" style="left:527.0px;top:1814.3px;font-size:6.1px;color:#7d8a87;">恭喜已在该项任务获得满分，请继续完成其他任务</div>
<svg class="m" style="left:240.5px;top:1845.2px" width="10" height="9" viewBox="0 0 10 9"><circle cx="3.6" cy="2.6" r="1.9" fill="none" stroke="#3b74c8" stroke-width="0.9"/><path d="M0.5,8.4 Q0.8,5.2 3.6,5.2 Q6.4,5.2 6.7,8.4 Z" fill="none" stroke="#3b74c8" stroke-width="0.9"/><path d="M6.2,0.9 Q8,1.4 7.6,3.6 M7.6,5.4 Q9.2,6.2 9.3,8.4" stroke="#3b74c8" stroke-width="0.8" fill="none"/></svg>
<div class="m" style="left:254px;top:1846.0px;font-size:7.4px;color:#34413f;-webkit-text-stroke-width:0.25px;">服务反馈</div>
<div class="m" style="left:240.5px;top:1862.3px;width:265.3px;height:80.29999999999995px;background:#cae4d8;border:0.8px solid #bfdace;border-radius:3px;"></div>
<div class="m" style="left:248.0px;top:1871.2px;font-size:6.3px;color:#3b4845;">评价量 <span style="color:#8e9c98;font-size:6px">ⓘ</span></div>
<div class="m" style="left:247.8px;top:1884.8px;font-size:9.8px;color:#2f3b39;-webkit-text-stroke-width:0.3px;letter-spacing:0.2px;">16</div>
<div class="m" style="left:260.7px;top:1887.5px;font-size:5.3px;color:#6f7d7a;">&lt;20%同行</div>
<div class="m" style="left:252.0px;top:1900.8px;width:239.5px;height:1.0px;background:#b9d2cc;"></div>
<div class="m" style="left:252.0px;top:1900.3px;width:123.80000000000001px;height:2.0px;background:#4d86d0;border-radius:1px;"></div>
<div class="m" style="left:299.5px;top:1900.3px;width:0.7999999999999545px;height:2.0px;background:#cfe6dc;"></div>
<div class="m" style="left:347.40000000000003px;top:1900.3px;width:0.7999999999999545px;height:2.0px;background:#cfe6dc;"></div>
<div class="m" style="left:252.0px;top:1907.6px;font-size:5.3px;color:#4f86cc;transform:translateX(-50%);">0个</div>
<div class="m" style="left:299.9px;top:1907.6px;font-size:5.3px;color:#4f86cc;transform:translateX(-50%);">5个</div>
<div class="m" style="left:347.8px;top:1907.6px;font-size:5.3px;color:#4f86cc;transform:translateX(-50%);">10个</div>
<div class="m" style="left:392.4px;top:1898.0px;width:6.6px;height:6.6px;border-radius:50%;background:#5d91d6;border:1px solid #a9c6ea"></div>
<div class="m" style="left:395.3px;top:1899.5px;width:0.8px;height:3.4px;background:#e8f2ff"></div>
<div class="m" style="left:395.7px;top:1907.6px;font-size:5.3px;color:#8fa6b8;transform:translateX(-50%);">20个</div>
<div class="m" style="left:440.3px;top:1898.0px;width:6.6px;height:6.6px;border-radius:50%;background:#5d91d6;border:1px solid #a9c6ea"></div>
<div class="m" style="left:443.20000000000005px;top:1899.5px;width:0.8px;height:3.4px;background:#e8f2ff"></div>
<div class="m" style="left:443.6px;top:1907.6px;font-size:5.3px;color:#8fa6b8;transform:translateX(-50%);">50个</div>
<div class="m" style="left:488.2px;top:1898.0px;width:6.6px;height:6.6px;border-radius:50%;background:#4d86d0"></div>
<svg class="m" style="left:489.3px;top:1899.5px" width="4.4" height="3.6" viewBox="0 0 4.4 3.6"><path d="M0.5,1.8 L1.7,3 L3.9,0.6" stroke="#e8f2ff" stroke-width="0.8" fill="none"/></svg>
<div class="m" style="left:491.5px;top:1907.6px;font-size:5.3px;color:#8fa6b8;transform:translateX(-50%);">80个</div>
<div class="m" style="left:247.8px;top:1919.6px;width:250.2px;height:15.0px;background:#c3ddd1;border-radius:2px;"></div>
<svg class="m" style="left:254.4px;top:1923.7px" width="7" height="7" viewBox="0 0 7 7"><rect x="0.5" y="0.5" width="6" height="6" rx="1.2" fill="none" stroke="#3b74c8" stroke-width="0.9"/><path d="M2,2.3 V4.8 M3.5,2.3 V4.8 M5,2.3 V4.8" stroke="#3b74c8" stroke-width="0.7"/></svg>
<div class="m" style="left:262.1px;top:1924.0px;font-size:6.3px;color:#3b74c8;-webkit-text-stroke-width:0.15px;">宝典</div>
<div class="m" style="left:284.3px;top:1924.2px;font-size:6.1px;color:#7d8a87;">下载评价二维码，积极引导用户评价</div>
<div class="m" style="right:544.7px;top:1924.2px;font-size:6.1px;color:#3b74c8;">前往优化</div>
<svg class="m" style="left:488.3px;top:1924.5px" width="4" height="6" viewBox="0 0 4 6"><path d="M0.8,0.6 L3,3 L0.8,5.4" stroke="#3b74c8" stroke-width="0.9" fill="none"/></svg>
<div class="m" style="left:515.7px;top:1862.3px;width:265.29999999999995px;height:80.29999999999995px;background:#cae4d8;border:0.8px solid #bfdace;border-radius:3px;"></div>
<div class="m" style="left:523.2px;top:1871.2px;font-size:6.3px;color:#3b4845;">好评率 <span style="color:#8e9c98;font-size:6px">ⓘ</span></div>
<div class="m" style="left:560.7px;top:1870.5px;width:26.0px;height:7.7999999999999545px;background:#c6e3d2;border-radius:1px;"></div>
<div class="m" style="left:563.7px;top:1871.7px;font-size:5.4px;color:#38a866;">最易完成</div>
<div class="m" style="left:523.0px;top:1884.8px;font-size:9.8px;color:#2f3b39;-webkit-text-stroke-width:0.3px;letter-spacing:0.2px;">80%</div>
<div class="m" style="left:544.6px;top:1887.5px;font-size:5.3px;color:#6f7d7a;">&gt;90%同行</div>
<div class="m" style="left:527.2px;top:1900.8px;width:239.5px;height:1.0px;background:#b9d2cc;"></div>
<div class="m" style="left:527.2px;top:1900.3px;width:226.5px;height:2.0px;background:#4d86d0;border-radius:1px;"></div>
<div class="m" style="left:574.7px;top:1900.3px;width:0.7999999999999545px;height:2.0px;background:#cfe6dc;"></div>
<div class="m" style="left:622.6px;top:1900.3px;width:0.7999999999999545px;height:2.0px;background:#cfe6dc;"></div>
<div class="m" style="left:670.5000000000001px;top:1900.3px;width:0.7999999999999545px;height:2.0px;background:#cfe6dc;"></div>
<div class="m" style="left:718.4000000000001px;top:1900.3px;width:0.7999999999999545px;height:2.0px;background:#cfe6dc;"></div>
<div class="m" style="left:527.2px;top:1907.6px;font-size:5.3px;color:#4f86cc;transform:translateX(-50%);">0</div>
<div class="m" style="left:575.1px;top:1907.6px;font-size:5.3px;color:#4f86cc;transform:translateX(-50%);">18%</div>
<div class="m" style="left:623.0px;top:1907.6px;font-size:5.3px;color:#4f86cc;transform:translateX(-50%);">36%</div>
<div class="m" style="left:670.9000000000001px;top:1907.6px;font-size:5.3px;color:#4f86cc;transform:translateX(-50%);">54%</div>
<div class="m" style="left:718.8000000000001px;top:1907.6px;font-size:5.3px;color:#4f86cc;transform:translateX(-50%);">72%</div>
<div class="m" style="left:763.4000000000001px;top:1898.0px;width:6.6px;height:6.6px;border-radius:50%;background:#4d86d0"></div>
<svg class="m" style="left:764.5px;top:1899.5px" width="4.4" height="3.6" viewBox="0 0 4.4 3.6"><path d="M0.5,1.8 L1.7,3 L3.9,0.6" stroke="#e8f2ff" stroke-width="0.8" fill="none"/></svg>
<div class="m" style="left:766.7px;top:1907.6px;font-size:5.3px;color:#8fa6b8;transform:translateX(-50%);">90%</div>
<div class="m" style="left:523.0px;top:1919.6px;width:250.20000000000005px;height:15.0px;background:#c3ddd1;border-radius:2px;"></div>
<svg class="m" style="left:529.6px;top:1923.7px" width="7" height="7" viewBox="0 0 7 7"><rect x="0.5" y="0.5" width="6" height="6" rx="1.2" fill="none" stroke="#3b74c8" stroke-width="0.9"/><path d="M2,2.3 V4.8 M3.5,2.3 V4.8 M5,2.3 V4.8" stroke="#3b74c8" stroke-width="0.7"/></svg>
<div class="m" style="left:537.3px;top:1924.0px;font-size:6.3px;color:#3b74c8;-webkit-text-stroke-width:0.15px;">宝典</div>
<div class="m" style="left:559.5px;top:1924.2px;font-size:6.1px;color:#7d8a87;">下载评价二维码，积极引导用户评价</div>
<div class="m" style="right:269.5px;top:1924.2px;font-size:6.1px;color:#3b74c8;">前往优化</div>
<svg class="m" style="left:763.5px;top:1924.5px" width="4" height="6" viewBox="0 0 4 6"><path d="M0.8,0.6 L3,3 L0.8,5.4" stroke="#3b74c8" stroke-width="0.9" fill="none"/></svg>
<div class="m" style="left:229px;top:1957.5px;width:564px;height:4.5px;background:#c2ddd1;"></div>
<div class="m" style="left:511px;top:1968.3px;font-size:6.4px;color:#3b78c0;transform:translateX(-50%);">商家等级如何？来吐槽一下吧~</div>
<div class="m" style="left:511px;top:1993.2px;font-size:6.45px;color:#a0a5af;transform:translateX(-50%);">京公网安备11000002000001号&nbsp;&nbsp;互联网新闻信息服务许可&nbsp;&nbsp;©2018 Baidu使用百度前必读</div>
<!-- MOCK-END -->
</div>
</div>


<!-- dashed arrows -->
<svg class="a" style="left:0;top:0" width="1029" height="2083" viewBox="0 0 1029 2083">
  <g stroke-width="2" stroke-dasharray="10 10" fill="none">
    <path d="M792.7,1390.5 H885" stroke="#d8747a"/>
    <path d="M792.7,1468 H885" stroke="#1a63e6"/>
    <path d="M792.7,1577 H885" stroke="#4faa7e"/>
  </g>
  <polygon points="887.8,1385.9 898,1390.5 887.8,1395.2" fill="#d8747a"/>
  <polygon points="887.8,1463.4 898,1468 887.8,1472.6" fill="#1a63e6"/>
  <polygon points="887.8,1572.4 898,1577 887.8,1581.6" fill="#4faa7e"/>
  <circle cx="776.8" cy="1390.5" r="5.2" fill="#df6f78"/>
  <circle cx="776.8" cy="1468" r="5.2" fill="#1a63e6"/>
  <circle cx="776.8" cy="1577" r="5.2" fill="#4faa7e"/>
</svg>
<div class="a med" style="left:943px;top:1377px;font-size:22.5px;color:#e27d7d;transform:translateX(-50%)">等级</div>
<div class="a" style="left:943px;top:1407px;font-size:14.6px;letter-spacing:0.9px;color:#e27d7d;transform:translateX(-50%);-webkit-text-stroke:0.2px #e27d7d"><span class="p2">(</span>获取信息<span class="p2">)</span></div>
<div class="a med" style="left:942px;top:1454.5px;font-size:22.5px;color:#1a66ee;transform:translateX(-50%)">权益</div>
<div class="a" style="left:942px;top:1482px;font-size:14.6px;letter-spacing:0.9px;color:#1a66ee;transform:translateX(-50%);-webkit-text-stroke:0.2px #1a66ee"><span class="p2">(</span>驱动<span class="p2">)</span></div>
<div class="a med" style="left:943.5px;top:1563.5px;font-size:22.5px;color:#4fad80;transform:translateX(-50%)">任务</div>
<div class="a" style="left:943.5px;top:1592px;font-size:14.6px;letter-spacing:0.9px;color:#4fad80;transform:translateX(-50%);-webkit-text-stroke:0.2px #4fad80"><span class="p2">(</span>操作区<span class="p2">)</span></div>
</body></html>
